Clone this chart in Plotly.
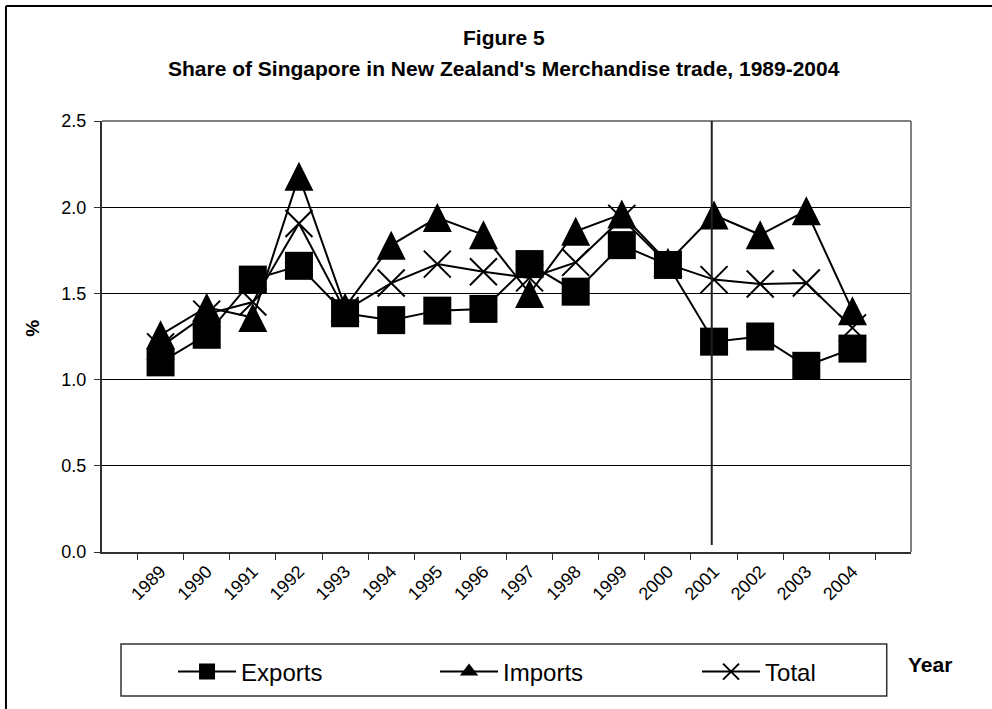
import plotly.graph_objects as go

years = [str(y) for y in range(1989, 2005)]
exports = [1.10, 1.26, 1.58, 1.66, 1.385, 1.345, 1.40, 1.41, 1.67, 1.51, 1.78, 1.665, 1.22, 1.25, 1.08, 1.18]
imports = [1.26, 1.42, 1.36, 2.18, 1.42, 1.78, 1.94, 1.84, 1.50, 1.86, 1.96, 1.68, 1.955, 1.84, 1.98, 1.40]
total = [1.19, 1.38, 1.45, 1.905, 1.40, 1.56, 1.67, 1.626, 1.59, 1.68, 1.935, 1.67, 1.58, 1.555, 1.56, 1.30]

title_line1 = "Figure 5"
title_line2 = "Share of Singapore in New Zealand's Merchandise trade, 1989-2004"

FONT = "Arial, Liberation Sans, sans-serif"
LINE = dict(color="black", width=2)

fig = go.Figure()

# data traces (legend drawn from the dummy traces below)
# triangles: arrow-down turned round so it is as tall as it is wide and centred
fig.add_trace(go.Scatter(
    x=years, y=imports, name="Imports", mode="lines+markers", showlegend=False,
    line=dict(color="black", width=2, backoff=0),
    marker=dict(symbol="arrow-down", size=29, angle=180, standoff=14.5, color="black"),
))
fig.add_trace(go.Scatter(
    x=years, y=total, name="Total", mode="lines+markers", showlegend=False,
    line=LINE,
    marker=dict(symbol="x-thin", size=27, line=dict(color="black", width=2)),
))
fig.add_trace(go.Scatter(
    x=years, y=exports, name="Exports", mode="lines+markers", showlegend=False,
    line=LINE,
    marker=dict(symbol="square", size=28, color="black"),
))

# legend entries only
legend_items = [("Exports", dict(symbol="square", size=16, color="black")),
                ("Imports", dict(symbol="triangle-up", size=16, color="black")),
                ("Total", dict(symbol="x-thin", size=16, line=dict(color="black", width=2)))]
for name, mk in legend_items:
    fig.add_trace(go.Scatter(x=[None], y=[None], name=name, mode="lines+markers",
                             line=LINE, marker=mk, hoverinfo="skip"))

shapes = [
    # plot frame (grey top and right)
    dict(type="line", xref="paper", yref="paper", x0=0, x1=1, y0=1, y1=1,
         line=dict(color="#808080", width=2)),
    dict(type="line", xref="paper", yref="paper", x0=1, x1=1, y0=0, y1=1,
         line=dict(color="#808080", width=2)),
    # marker line just before 2001
    dict(type="line", xref="x", yref="y", x0=11.95, x1=11.95, y0=0.04, y1=2.5,
         line=dict(color="#202020", width=2)),
    # legend box
    dict(type="rect", xref="paper", yref="paper", x0=0.0235, x1=0.970, y0=-0.334, y1=-0.2135,
         line=dict(color="#303030", width=1.5)),
    # outer chart frame (left and top edges only visible)
    dict(type="line", xref="paper", yref="paper", x0=-0.1187, x1=-0.1187, y0=-0.6, y1=1.2668,
         line=dict(color="black", width=2)),
    dict(type="line", xref="paper", yref="paper", x0=-0.1187, x1=1.2, y0=1.2668, y1=1.2668,
         line=dict(color="black", width=2)),
]

annotations = [
    dict(text="<b>" + title_line1 + "</b>", xref="paper", yref="paper", x=0.497, y=1,
         xanchor="center", yanchor="middle", yshift=83.5, showarrow=False,
         font=dict(size=21, family=FONT, color="black")),
    dict(text="<b>" + title_line2 + "</b>", xref="paper", yref="paper", x=0.497, y=1,
         xanchor="center", yanchor="middle", yshift=53, showarrow=False,
         font=dict(size=21, family=FONT, color="black")),
    dict(text="<b>%</b>", xref="paper", yref="paper", x=-0.0853, y=0.52, textangle=-90,
         xanchor="center", yanchor="middle", showarrow=False,
         font=dict(size=19, family=FONT, color="black")),
    dict(text="<b>Year</b>", xref="paper", yref="paper", x=1.0235, y=-0.26,
         xanchor="center", yanchor="middle", showarrow=False,
         font=dict(size=21, family=FONT, color="black")),
]

fig.update_layout(
    width=992, height=709,
    margin=dict(l=102, r=81, t=121, b=157),
    paper_bgcolor="white", plot_bgcolor="white",
    font=dict(family=FONT, size=18, color="black"),
    showlegend=True,
    legend=dict(
        orientation="h", x=0.0878, xanchor="left", y=-0.2784, yanchor="middle",
        font=dict(size=24, family=FONT), itemwidth=58, entrywidth=189,
        bgcolor="rgba(0,0,0,0)", traceorder="normal",
    ),
    shapes=shapes,
    annotations=annotations,
)

fig.update_xaxes(
    type="category", tickson="boundaries", ticks="outside", ticklen=6,
    tickcolor="#303030", tickwidth=1, tickangle=-45, showgrid=False,
    showline=True, linecolor="#303030", linewidth=2, zeroline=False,
    tickfont=dict(size=18, family=FONT),
)
fig.update_yaxes(
    range=[0, 2.5], dtick=0.5, tickformat=".1f", ticks="outside", ticklen=6,
    tickcolor="#303030", showgrid=True, gridcolor="black", gridwidth=1,
    showline=True, linecolor="#303030", linewidth=2, zeroline=False,
    ticklabelstandoff=4, tickfont=dict(size=18, family=FONT),
)

# drop the page's default body margin so the figure sits at the window's corner
fig.write_html("out.html", config={"displayModeBar": False},
               post_script="document.body.style.margin='0px';")
